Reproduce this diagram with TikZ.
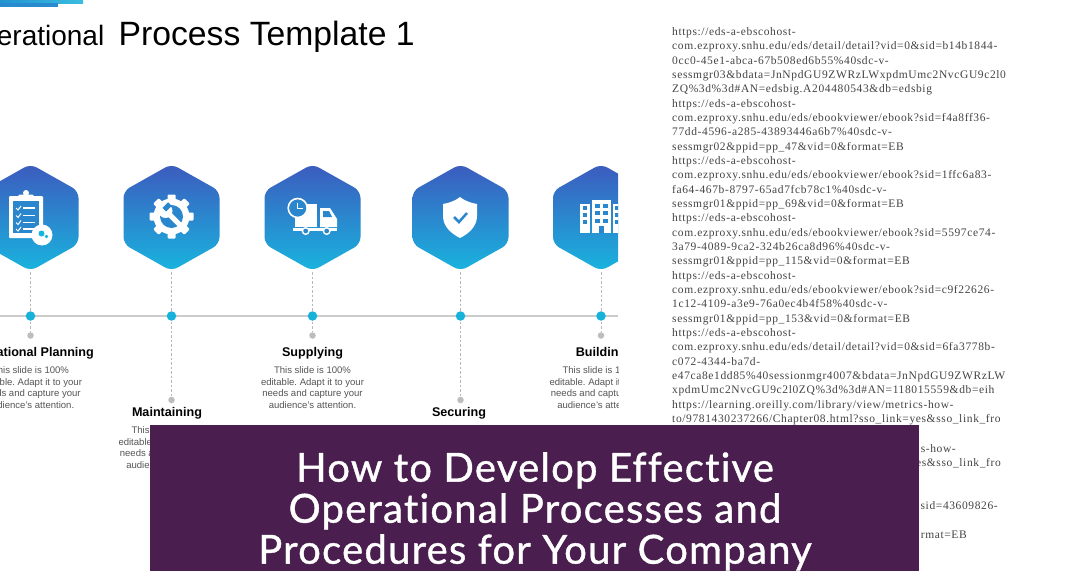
\documentclass[tikz,border=0pt]{standalone}
\usepackage{fontspec}
\setmainfont{Liberation Sans}
\newfontfamily\serifref[LetterSpace=5.4]{Liberation Serif}
\newfontfamily\bannerfont[LetterSpace=3.1,Ligatures=NoCommon,FakeBold=1]{Lato}
\definecolor{hextop}{HTML}{3C5BBE}
\definecolor{hexbot}{HTML}{19B4DE}
\definecolor{teal}{HTML}{16B2DA}
\definecolor{banner}{HTML}{4A1F4F}
\definecolor{dotgray}{HTML}{BDBDBD}
\definecolor{bodygray}{HTML}{555555}
\definecolor{reftext}{HTML}{444444}
\definecolor{icoin}{HTML}{2A87CE}
\newcounter{rlc}
\tikzset{
  hexa/.style={top color=hextop,bottom color=hexbot,draw=none,rounded corners=7pt},
  axis line/.style={draw=black!20,line width=1.2pt},
  drop/.style={draw=black!28,line width=.6pt,dash pattern=on 2.5pt off 2pt},
  tealdot/.style={circle,fill=teal,inner sep=0pt,minimum size=9.5pt},
  graydot/.style={circle,fill=dotgray,inner sep=0pt,minimum size=6.5pt},
  headlabel/.style={font=\fontsize{12.6}{14}\selectfont\bfseries,text=black,anchor=base},
  bodytext/.style={font=\fontsize{9.55}{11.6}\selectfont\frenchspacing,text=bodygray,align=center,anchor=north},
  refline/.style={font=\serifref\fontsize{11.5}{13}\selectfont,text=reftext,anchor=base west,inner sep=0pt},
  refend/.style={refline,anchor=base east},
  ico/.style={fill=white,draw=none},
}
\newcommand{\hexat}[2]{%
  \path[hexa] (#1,164) -- (#1+48,191) -- (#1+48,244) -- (#1,271) -- (#1-48,244) -- (#1-48,191) -- cycle;
  \coordinate (h#2) at (#1,272);
}
\newcommand{\rl}[2]{\stepcounter{rlc}\node[refline] (ref\arabic{rlc}) at (672,#1+0.7) {#2};}
\begin{document}
\begin{tikzpicture}[x=1pt,y=-1pt]
\useasboundingbox (0,0) rectangle (1068,578);
\fill[white] (0,0) rectangle (1068,578);
\begin{scope}
\clip (0,0) rectangle (618,578);
\fill[left color=hextop!35!teal,right color=teal!85!white] (0,0) rectangle (83,3.5);
\fill[hextop!45!teal] (0,3.5) rectangle (58,7.5);
\node[anchor=base east,inner sep=0pt,font=\fontsize{28}{30}\selectfont] (ttlA) at (104.5,45.5) {Operational};
\node[anchor=base west,inner sep=0pt,font=\fontsize{33.7}{36}\selectfont] (ttlB) at (118.5,45.5) {Process Template 1};
\coordinate (ll) at (0,316);
\coordinate (lr) at (618,316);
\draw[axis line] (ll) -- (lr);
\hexat{30.5}{1}\hexat{171.5}{2}\hexat{312.5}{3}\hexat{460.5}{4}\hexat{601}{5}
\node[graydot] (g1) at (30.5,335.5) {};
\node[graydot] (g2) at (171.5,400) {};
\node[graydot] (g3) at (312.5,335.5) {};
\node[graydot] (g4) at (460.5,400) {};
\node[graydot] (g5) at (601,335.5) {};
\foreach \i in {1,...,5} \draw[drop] (h\i) -- (g\i);
\node[tealdot] (t1) at (30.5,316) {};
\node[tealdot] (t2) at (171.5,316) {};
\node[tealdot] (t3) at (312.5,316) {};
\node[tealdot] (t4) at (460.5,316) {};
\node[tealdot] (t5) at (601,316) {};
\node[headlabel] (l1) at (30.5,356.5) {Operational Planning};
\node[headlabel] (l2) at (167,416.5) {Maintaining};
\node[headlabel] (l3) at (312.5,356.5) {Supplying};
\node[headlabel] (l4) at (459,416.5) {Securing};
\node[headlabel] (l5) at (601,356.5) {Building};
\node[bodytext] (b1) at (30.5,363) {This slide is 100\%\\editable. Adapt it to your\\needs and capture your\\audience's attention.};
\node[bodytext] (b2) at (170,423) {This slide is 100\%\\editable. Adapt it to your\\needs and capture your\\audience's attention.};
\node[bodytext] (b3) at (312.5,363) {This slide is 100\%\\editable. Adapt it to your\\needs and capture your\\audience's attention.};
\node[bodytext] (b5) at (601,363) {This slide is 100\%\\editable. Adapt it to your\\needs and capture your\\audience's attention.};
% clipboard
\fill[ico,rounded corners=1pt] (9,196) rectangle (43,238);
\fill[icoin] (13,201) rectangle (39,233);
\fill[ico,rounded corners=1.5pt] (18,194.5) rectangle (34,200);
\fill[ico] (26,193) circle (3pt);
\foreach \yy in {208,215.5,222.5,229}{
  \draw[white,line width=1pt] (16,\yy) -- (18,\yy+2) -- (21,\yy-2);
  \draw[white,line width=1.3pt] (23,\yy) -- (35,\yy);
}
\fill[ico] (42,235) circle (10.5pt);
\fill[hexbot] (41.5,233.5) circle (3pt);
\fill[hexbot] (46.5,236.5) circle (1.8pt);
% gear + wrench
\fill[ico] (171.5,216.5) circle (18pt);
\foreach \a in {0,45,...,315}
  \fill[ico,rounded corners=1pt,rotate around={\a:(171.5,216.5)}] (167.5,194.5) rectangle (175.5,204);
\fill[icoin] (171.5,216.5) circle (11.5pt);
\draw[white,line width=5pt] (168,213) -- (180,225);
\fill[white] (165.5,211) circle (7pt);
\fill[icoin,rotate around={-45:(165,209)}] (162.5,202) rectangle (167.5,210);
% truck
\fill[ico] (295,204) rectangle (317,227);
\draw[white,line width=1.6pt,fill=icoin] (297.7,208) circle (9.5pt);
\draw[white,line width=1pt] (297.7,202.5) -- (297.7,208.5) -- (303,208.5);
\fill[ico] (320,208) -- (330,208) -- (337,219) -- (337,227) -- (320,227) -- cycle;
\fill[icoin] (323,211) -- (329,211) -- (332,217) -- (323,217) -- cycle;
\fill[ico] (293,228) rectangle (337,231);
\draw[white,line width=1.4pt,fill=icoin] (305.7,231) circle (3.3pt);
\draw[white,line width=1.4pt,fill=icoin] (326.7,231) circle (3.3pt);
% shield
\fill[ico] (460,197) .. controls (465,201) and (471,203) .. (477,204) -- (477,216) .. controls (477,227) and (468,234) .. (460,238) .. controls (452,234) and (443,227) .. (443,216) -- (443,204) .. controls (449,203) and (455,201) .. (460,197) -- cycle;
\draw[icoin,line width=2.5pt] (454,217) -- (459,222) -- (467,213);
% buildings
\fill[ico] (580,203.5) rectangle (590,233);
\fill[ico] (592,200) rectangle (611,233);
\fill[ico] (613,203.5) rectangle (630,233);
\foreach \yy in {206,213,220}\fill[icoin] (583,\yy) rectangle +(4,3.5);
\foreach \xx in {595,603}\foreach \yy in {204,211,219}\fill[icoin] (\xx,\yy) rectangle +(4.5,4);
\foreach \yy in {206,213,220}\fill[icoin] (615,\yy) rectangle +(4,3.5);
\fill[icoin] (599,226) rectangle (604,233);
\end{scope}
% reference list
\rl{34.5}{https://eds-a-ebscohost-}
\rl{49}{com.ezproxy.snhu.edu/eds/detail/detail?vid=0\&sid=b14b1844-}
\rl{63.5}{0cc0-45e1-abca-67b508ed6b55\%40sdc-v-}
\rl{77.5}{sessmgr03\&bdata=JnNpdGU9ZWRzLWxpdmUmc2NvcGU9c2l0}
\rl{92}{ZQ\%3d\%3d\#AN=edsbig.A204480543\&db=edsbig}
\rl{106.5}{https://eds-a-ebscohost-}
\rl{120.5}{com.ezproxy.snhu.edu/eds/ebookviewer/ebook?sid=f4a8ff36-}
\rl{135}{77dd-4596-a285-43893446a6b7\%40sdc-v-}
\rl{149.5}{sessmgr02\&ppid=pp\_47\&vid=0\&format=EB}
\rl{163.5}{https://eds-a-ebscohost-}
\rl{178}{com.ezproxy.snhu.edu/eds/ebookviewer/ebook?sid=1ffc6a83-}
\rl{192.5}{fa64-467b-8797-65ad7fcb78c1\%40sdc-v-}
\rl{206.5}{sessmgr01\&ppid=pp\_69\&vid=0\&format=EB}
\rl{221}{https://eds-a-ebscohost-}
\rl{235.5}{com.ezproxy.snhu.edu/eds/ebookviewer/ebook?sid=5597ce74-}
\rl{249.5}{3a79-4089-9ca2-324b26ca8d96\%40sdc-v-}
\rl{264}{sessmgr01\&ppid=pp\_115\&vid=0\&format=EB}
\rl{278.5}{https://eds-a-ebscohost-}
\rl{292.5}{com.ezproxy.snhu.edu/eds/ebookviewer/ebook?sid=c9f22626-}
\rl{307}{1c12-4109-a3e9-76a0ec4b4f58\%40sdc-v-}
\rl{321.5}{sessmgr01\&ppid=pp\_153\&vid=0\&format=EB}
\rl{336}{https://eds-a-ebscohost-}
\rl{350}{com.ezproxy.snhu.edu/eds/detail/detail?vid=0\&sid=6fa3778b-}
\rl{364.5}{c072-4344-ba7d-}
\rl{379}{e47ca8e1dd85\%40sessionmgr4007\&bdata=JnNpdGU9ZWRzLW}
\rl{393}{xpdmUmc2NvcGU9c2l0ZQ\%3d\%3d\#AN=118015559\&db=eih}
\rl{407.5}{https://learning.oreilly.com/library/view/metrics-how-}
\rl{422}{to/9781430237266/Chapter08.html?sso\_link=yes\&sso\_link\_fro}
\node[refend] (r1) at (956,452) {s-how-};
\node[refend] (r2) at (1001,466.5) {es\&sso\_link\_fro};
\node[refend] (r3) at (998,509.5) {sid=43609826-};
\node[refend] (r4) at (967,538.5) {rmat=EB};
% banner
\fill[banner] (150,425) rectangle (919,571);
\node[font=\bannerfont\fontsize{40}{41}\selectfont,text=white,align=center,anchor=north,inner sep=0pt] (bt) at (535,452) {How to Develop Effective\\Operational Processes and\\Procedures for Your Company};
\end{tikzpicture}
\end{document}
